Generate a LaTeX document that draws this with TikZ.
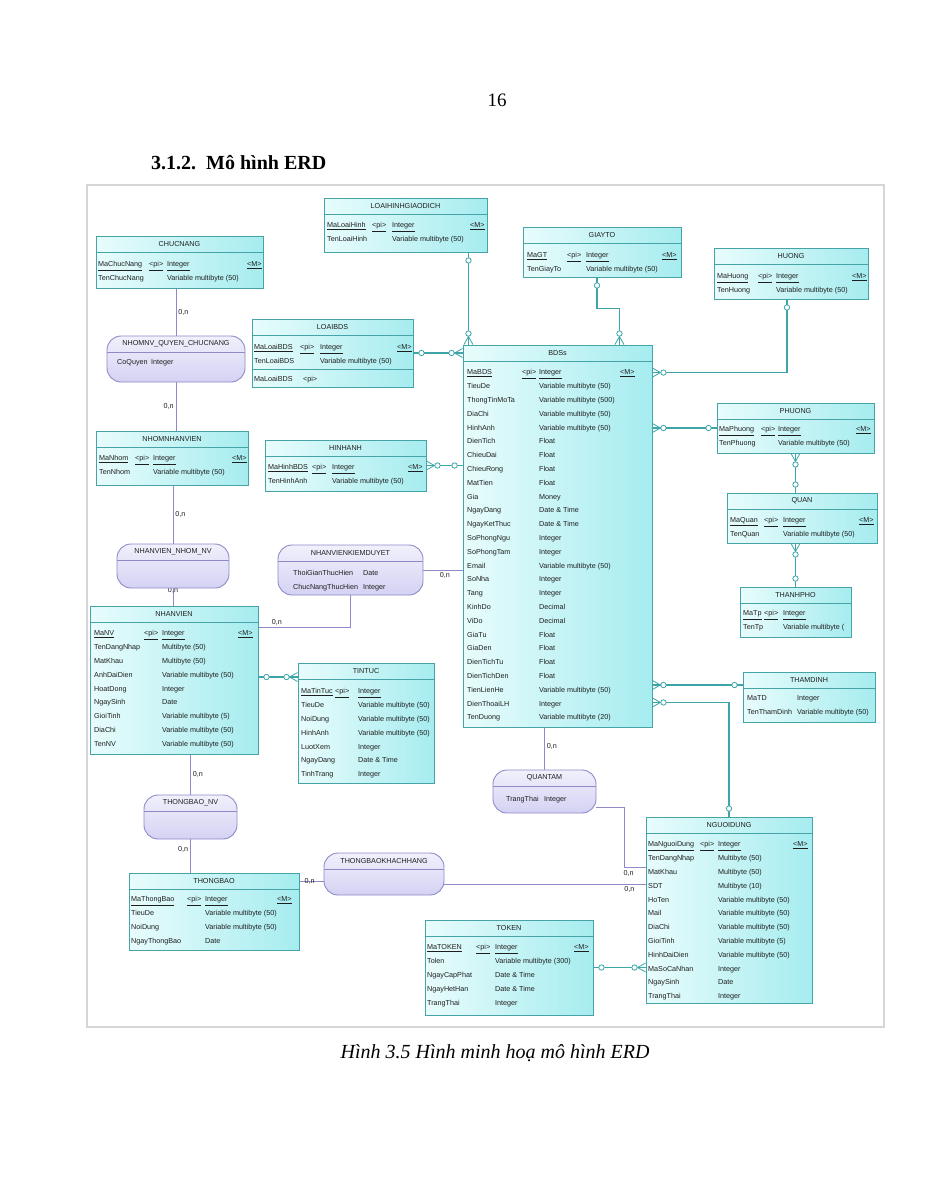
\documentclass[tikz,border=0pt]{standalone}
\usepackage{fontspec}
\setmainfont{Liberation Serif}
\newfontfamily\erdfont{Liberation Sans}
\usetikzlibrary{fit}
\pgfdeclarelayer{background}
\pgfsetlayers{background,main}
\setlength{\tabcolsep}{0pt}
\definecolor{entcol}{HTML}{46A3A6}
\definecolor{entlight}{HTML}{E8FCFC}
\definecolor{entdark}{HTML}{A6ECEF}
\definecolor{relcol}{HTML}{3DA5A8}
\definecolor{asscol}{HTML}{8E8AC8}
\definecolor{asslight}{HTML}{F1F0FC}
\definecolor{assdark}{HTML}{D4D2F3}
\definecolor{erdtext}{HTML}{1E1E1E}
\definecolor{framecol}{HTML}{D6D6D6}
\tikzset{
entbox/.style={draw=entcol,line width=0.9pt,left color=entlight,right color=entdark,inner sep=0pt},
assbox/.style={draw=asscol,line width=0.9pt,top color=asslight,bottom color=assdark,rounded corners=14pt,inner sep=0pt},
enttitle/.style={inner sep=0pt,text=erdtext,font=\erdfont\fontsize{7.2}{8}\selectfont},
attrs/.style={anchor=north west,inner sep=0pt,text=erdtext,font=\erdfont\fontsize{7.2}{13.8}\selectfont},
rel/.style={draw=relcol,line width=1.1pt},
link/.style={draw=asscol,line width=0.9pt},
card/.style={inner sep=2pt,text=erdtext,font=\erdfont\fontsize{7.2}{8}\selectfont}
}
\newcommand{\pk}[1]{\underline{#1}}
\newcommand{\erdentity}[3]{
\node[entbox,fit={#2}] (#1) {};
\draw[entcol,line width=0.8pt] ([yshift=-17pt]#1.north west) -- ([yshift=-17pt]#1.north east);
\node[enttitle] (#1title) at ([yshift=-8.5pt]#1.north) {#3};
}
\newcommand{\erdassoc}[3]{
\node[assbox,fit={#2}] (#1) {};
\draw[asscol,line width=0.8pt] ([yshift=-17pt]#1.north west) -- ([yshift=-17pt]#1.north east);
\node[enttitle] (#1title) at ([yshift=-8.5pt]#1.north) {#3};
}
\newcommand{\zeroone}[2]{
\begin{scope}[shift={#1},rotate=#2]
\filldraw[fill=white,draw=relcol,line width=0.8pt] (8pt,0) circle (2.7pt);
\end{scope}
}
\newcommand{\zeromany}[2]{
\begin{scope}[shift={#1},rotate=#2]
\draw[relcol,line width=0.8pt] (0,4.5pt) -- (8pt,0) -- (0,-4.5pt);
\filldraw[fill=white,draw=relcol,line width=0.8pt] (11pt,0) circle (2.7pt);
\end{scope}
}

\begin{document}
\begin{tikzpicture}[x=1pt,y=-1pt]
\begin{pgfonlayer}{background}
\fill[white] (0,0) rectangle (927,1200);
\end{pgfonlayer}
\useasboundingbox (0,0) rectangle (927,1200);
\node (pagenum) at (497,100) {\fontsize{19}{20}\selectfont 16};
\node[anchor=west,inner sep=0pt] (heading) at (151,163) {\bfseries\fontsize{20}{22}\selectfont 3.1.2.\ \ Mô hình ERD};
\node (caption) at (495,1053) {\itshape\fontsize{20}{22}\selectfont Hình 3.5 Hình minh hoạ mô hình ERD};
\draw[framecol,line width=1.3pt] (87,185) rectangle (884,1027);

% entities
\erdentity{lhgd}{(324,198) (487,252)}{LOAIHINHGIAODICH}
\node[attrs] (lhgdrows) at (327,218) {\begin{tabular}{@{}p{45pt}p{20pt}p{78pt}l@{}}
\pk{MaLoaiHinh} & \pk{<pi>} & \pk{Integer} & \pk{<M>}\\
TenLoaiHinh && Variable multibyte (50)
\end{tabular}};
\erdentity{chucnang}{(96,236) (263,288)}{CHUCNANG}
\node[attrs] (chucnangrows) at (98,257) {\begin{tabular}{@{}p{51pt}p{18pt}p{80pt}l@{}}
\pk{MaChucNang} & \pk{<pi>} & \pk{Integer} & \pk{<M>}\\
TenChucNang && Variable multibyte (50)
\end{tabular}};
\erdentity{giayto}{(523,227) (681,277)}{GIAYTO}
\node[attrs] (giaytorows) at (527,248) {\begin{tabular}{@{}p{40pt}p{19pt}p{76pt}l@{}}
\pk{MaGT} & \pk{<pi>} & \pk{Integer} & \pk{<M>}\\
TenGiayTo && Variable multibyte (50)
\end{tabular}};
\erdentity{huong}{(714,248) (868,299)}{HUONG}
\node[attrs] (huongrows) at (717,269) {\begin{tabular}{@{}p{41pt}p{18pt}p{76pt}l@{}}
\pk{MaHuong} & \pk{<pi>} & \pk{Integer} & \pk{<M>}\\
TenHuong && Variable multibyte (50)
\end{tabular}};
\erdentity{loaibds}{(252,319) (413,387)}{LOAIBDS}
\node[attrs] (loaibdsrows) at (254,340) {\begin{tabular}{@{}p{46pt}p{20pt}p{77pt}l@{}}
\pk{MaLoaiBDS} & \pk{<pi>} & \pk{Integer} & \pk{<M>}\\
TenLoaiBDS && Variable multibyte (50)
\end{tabular}};
\draw[entcol,line width=0.8pt] ([yshift=18pt]loaibds.south west) -- ([yshift=18pt]loaibds.south east);
\node[attrs] (loaibdskey) at (254,372) {\begin{tabular}{@{}p{49pt}l@{}}MaLoaiBDS & <pi>\end{tabular}};
\erdentity{bds}{(463,345) (652,727)}{BDSs}
\node[attrs] (bdsrows) at (467,365) {\begin{tabular}{@{}p{55pt}p{17pt}p{81pt}l@{}}
\pk{MaBDS} & \pk{<pi>} & \pk{Integer} & \pk{<M>}\\
TieuDe && Variable multibyte (50)\\
ThongTinMoTa && Variable multibyte (500)\\
DiaChi && Variable multibyte (50)\\
HinhAnh && Variable multibyte (50)\\
DienTich && Float\\
ChieuDai && Float\\
ChieuRong && Float\\
MatTien && Float\\
Gia && Money\\
NgayDang && Date \& Time\\
NgayKetThuc && Date \& Time\\
SoPhongNgu && Integer\\
SoPhongTam && Integer\\
Email && Variable multibyte (50)\\
SoNha && Integer\\
Tang && Integer\\
KinhDo && Decimal\\
ViDo && Decimal\\
GiaTu && Float\\
GiaDen && Float\\
DienTichTu && Float\\
DienTichDen && Float\\
TienLienHe && Variable multibyte (50)\\
DienThoaiLH && Integer\\
TenDuong && Variable multibyte (20)
\end{tabular}};
\erdentity{nhomnv}{(96,431) (248,485)}{NHOMNHANVIEN}
\node[attrs] (nhomnvrows) at (99,451) {\begin{tabular}{@{}p{36pt}p{18pt}p{79pt}l@{}}
\pk{MaNhom} & \pk{<pi>} & \pk{Integer} & \pk{<M>}\\
TenNhom && Variable multibyte (50)
\end{tabular}};
\erdentity{hinhanh}{(265,440) (426,491)}{HINHANH}
\node[attrs] (hinhanhrows) at (268,460) {\begin{tabular}{@{}p{44pt}p{20pt}p{76pt}l@{}}
\pk{MaHinhBDS} & \pk{<pi>} & \pk{Integer} & \pk{<M>}\\
TenHinhAnh && Variable multibyte (50)
\end{tabular}};
\erdentity{phuong}{(717,403) (874,453)}{PHUONG}
\node[attrs] (phuongrows) at (719,422) {\begin{tabular}{@{}p{42pt}p{17pt}p{78pt}l@{}}
\pk{MaPhuong} & \pk{<pi>} & \pk{Integer} & \pk{<M>}\\
TenPhuong && Variable multibyte (50)
\end{tabular}};
\erdentity{quan}{(727,493) (877,543)}{QUAN}
\node[attrs] (quanrows) at (730,513) {\begin{tabular}{@{}p{34pt}p{19pt}p{76pt}l@{}}
\pk{MaQuan} & \pk{<pi>} & \pk{Integer} & \pk{<M>}\\
TenQuan && Variable multibyte (50)
\end{tabular}};
\erdentity{thanhpho}{(740,587) (851,637)}{THANHPHO}
\node[attrs] (thanhphorows) at (743,606) {\begin{tabular}{@{}p{21pt}p{19pt}l@{}}
\pk{MaTp} & \pk{<pi>} & \pk{Integer}\\
TenTp && Variable multibyte (
\end{tabular}};
\erdentity{nhanvien}{(90,606) (258,754)}{NHANVIEN}
\node[attrs] (nhanvienrows) at (94,626) {\begin{tabular}{@{}p{50pt}p{18pt}p{76pt}l@{}}
\pk{MaNV} & \pk{<pi>} & \pk{Integer} & \pk{<M>}\\
TenDangNhap && Multibyte (50)\\
MatKhau && Multibyte (50)\\
AnhDaiDien && Variable multibyte (50)\\
HoatDong && Integer\\
NgaySinh && Date\\
GioiTinh && Variable multibyte (5)\\
DiaChi && Variable multibyte (50)\\
TenNV && Variable multibyte (50)
\end{tabular}};
\erdentity{tintuc}{(298,663) (434,783)}{TINTUC}
\node[attrs] (tintucrows) at (301,684) {\begin{tabular}{@{}p{34pt}p{23pt}l@{}}
\pk{MaTinTuc} & \pk{<pi>} & \pk{Integer}\\
TieuDe && Variable multibyte (50)\\
NoiDung && Variable multibyte (50)\\
HinhAnh && Variable multibyte (50)\\
LuotXem && Integer\\
NgayDang && Date \& Time\\
TinhTrang && Integer
\end{tabular}};
\erdentity{thamdinh}{(743,672) (875,722)}{THAMDINH}
\node[attrs] (thamdinhrows) at (747,691) {\begin{tabular}{@{}p{50pt}l@{}}
MaTD & Integer\\
TenThamDinh & Variable multibyte (50)
\end{tabular}};
\erdentity{thongbao}{(129,873) (299,950)}{THONGBAO}
\node[attrs] (thongbaorows) at (131,892) {\begin{tabular}{@{}p{56pt}p{18pt}p{72pt}l@{}}
\pk{MaThongBao} & \pk{<pi>} & \pk{Integer} & \pk{<M>}\\
TieuDe && Variable multibyte (50)\\
NoiDung && Variable multibyte (50)\\
NgayThongBao && Date
\end{tabular}};
\erdentity{nguoidung}{(646,817) (812,1003)}{NGUOIDUNG}
\node[attrs] (nguoidungrows) at (648,837) {\begin{tabular}{@{}p{52pt}p{18pt}p{75pt}l@{}}
\pk{MaNguoiDung} & \pk{<pi>} & \pk{Integer} & \pk{<M>}\\
TenDangNhap && Multibyte (50)\\
MatKhau && Multibyte (50)\\
SDT && Multibyte (10)\\
HoTen && Variable multibyte (50)\\
Mail && Variable multibyte (50)\\
DiaChi && Variable multibyte (50)\\
GioiTinh && Variable multibyte (5)\\
HinhDaiDien && Variable multibyte (50)\\
MaSoCaNhan && Integer\\
NgaySinh && Date\\
TrangThai && Integer
\end{tabular}};
\erdentity{token}{(425,920) (593,1015)}{TOKEN}
\node[attrs] (tokenrows) at (427,940) {\begin{tabular}{@{}p{49pt}p{19pt}p{79pt}l@{}}
\pk{MaTOKEN} & \pk{<pi>} & \pk{Integer} & \pk{<M>}\\
Tolen && Variable multibyte (300)\\
NgayCapPhat && Date \& Time\\
NgayHetHan && Date \& Time\\
TrangThai && Integer
\end{tabular}};

% associations
\erdassoc{nvqcn}{(107,336) (245,382)}{NHOMNV\_QUYEN\_CHUCNANG}
\node[attrs] (nvqcnrows) at (117,355) {\begin{tabular}{@{}p{34pt}l@{}}CoQuyen & Integer\end{tabular}};
\erdassoc{nvnhom}{(117,544) (229,588)}{NHANVIEN\_NHOM\_NV}
\erdassoc{nvkd}{(278,545) (423,595)}{NHANVIENKIEMDUYET}
\node[attrs] (nvkdrows) at (293,566) {\begin{tabular}{@{}p{70pt}l@{}}
ThoiGianThucHien & Date\\
ChucNangThucHien & Integer
\end{tabular}};
\erdassoc{quantam}{(493,770) (596,813)}{QUANTAM}
\node[attrs] (quantamrows) at (506,792) {\begin{tabular}{@{}p{38pt}l@{}}TrangThai & Integer\end{tabular}};
\erdassoc{tbnv}{(144,795) (237,839)}{THONGBAO\_NV}
\erdassoc{tbkh}{(324,853) (444,895)}{THONGBAOKHACHHANG}

\begin{pgfonlayer}{background}
% relations
\draw[rel] ([xshift=-19pt]lhgd.south east) -- ([xshift=-19pt]lhgd.south east |- bds.north);
\draw[rel] ([xshift=-5pt]giayto.south) -- ++(0,31) -| ([xshift=-33pt]bds.north east);
\draw[rel] ([xshift=-4pt]huong.south) |- ([yshift=-28pt]bds.north east);
\draw[rel] (loaibds.east) -- (loaibds.east -| bds.west);
\draw[rel] (hinhanh.east) -- (hinhanh.east -| bds.west);
\draw[rel] (phuong.west) -- (phuong.west -| bds.east);
\draw[rel] (phuong.south) -- (phuong.south |- quan.north);
\draw[rel] (thanhpho.north |- quan.south) -- (thanhpho.north);
\draw[rel] ([yshift=12pt]thamdinh.west) -- ([yshift=12pt]thamdinh.west -| bds.east);
\draw[rel] ([yshift=25pt]bds.south east) -| (nguoidung.north);
\draw[rel] ([yshift=3pt]nhanvien.east) -- ([yshift=3pt]nhanvien.east -| tintuc.west);
\draw[rel] (token.east) -- (token.east -| nguoidung.west);
% association links
\draw[link] (nvqcn.north |- chucnang.south) -- (nvqcn.north) node[card,midway,right] (c1) {0,n};
\draw[link] (nvqcn.south) -- (nvqcn.south |- nhomnv.north) node[card,midway,left] (c2) {0,n};
\draw[link] (nvnhom.north |- nhomnv.south) -- (nvnhom.north) node[card,midway,right] (c3) {0,n};
\draw[link] (nvnhom.south) -- (nvnhom.south |- nhanvien.north) node[card,pos=0.1] (c4) {0,n};
\draw[link] (nvkd.south) |- ([yshift=-22pt]nhanvien.north east) node[card,pos=0.9,above] (c5) {0,n};
\draw[link] (nvkd.east) -- (nvkd.east -| bds.west) node[card,pos=0.55,below] (c6) {0,n};
\draw[link] (quantam.north |- bds.south) -- (quantam.north) node[card,pos=0.45,right] (c7) {0,n};
\draw[link] ([yshift=-16pt]quantam.east) -- ++(28,0) |- ([yshift=-51pt]nguoidung.north west) node[card,pos=0.6,below] (c8) {0,n};
\draw[link] ([yshift=-10pt]tbkh.east) -- ([yshift=-10pt]tbkh.east -| nguoidung.west) node[card,pos=0.92,below] (c9) {0,n};
\draw[link] ([yshift=-9pt]thongbao.north east) -- ([yshift=-9pt]thongbao.north east -| tbkh.center) node[card,pos=0.12] (c10) {0,n};
\draw[link] (tbnv.north |- nhanvien.south) -- (tbnv.north) node[card,midway,right] (c11) {0,n};
\draw[link] (tbnv.south) -- (tbnv.south |- thongbao.north) node[card,pos=0.3,left] (c12) {0,n};
\end{pgfonlayer}

% cardinality marks
\zeroone{([xshift=-19pt]lhgd.south east)}{270}
\zeromany{([xshift=-19pt]lhgd.south east |- bds.north)}{90}
\zeroone{([xshift=-5pt]giayto.south)}{270}
\zeromany{([xshift=-33pt]bds.north east)}{90}
\zeroone{([xshift=-4pt]huong.south)}{270}
\zeromany{([yshift=-28pt]bds.north east)}{0}
\zeroone{(loaibds.east)}{0}
\zeromany{(loaibds.east -| bds.west)}{180}
\zeromany{(hinhanh.east)}{0}
\zeroone{(hinhanh.east -| bds.west)}{180}
\zeroone{(phuong.west)}{180}
\zeromany{(phuong.west -| bds.east)}{0}
\zeromany{(phuong.south)}{270}
\zeroone{(phuong.south |- quan.north)}{90}
\zeromany{(thanhpho.north |- quan.south)}{270}
\zeroone{(thanhpho.north)}{90}
\zeroone{([yshift=12pt]thamdinh.west)}{180}
\zeromany{([yshift=12pt]thamdinh.west -| bds.east)}{0}
\zeromany{([yshift=25pt]bds.south east)}{0}
\zeroone{(nguoidung.north)}{90}
\zeroone{([yshift=3pt]nhanvien.east)}{0}
\zeromany{([yshift=3pt]nhanvien.east -| tintuc.west)}{180}
\zeroone{(token.east)}{0}
\zeromany{(token.east -| nguoidung.west)}{180}
\end{tikzpicture}
\end{document}
